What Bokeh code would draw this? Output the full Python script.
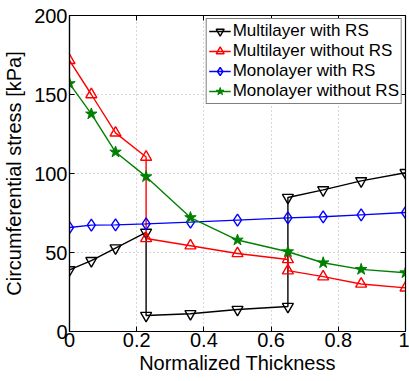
from bokeh.plotting import figure
from bokeh.models import Range1d, FixedTicker, LinearAxis, Legend, LegendItem
from bokeh.embed import file_html
from bokeh.resources import INLINE

# ---- data ----
x_ml = [0, 0.065, 0.137, 0.228, 0.228, 0.36, 0.5, 0.65, 0.65, 0.755, 0.868, 1.0]
ml_with_rs = [39, 44.8, 52.8, 62.7, 10.1, 11.2, 13.9, 15.8, 84.8, 89.6, 95.3, 100.5]
ml_without_rs = [171.6, 150, 125.7, 110.4, 58.9, 54.3, 49.4, 45.6, 38.5, 34.7, 30.1, 27.6]
x_mono = [0, 0.065, 0.137, 0.228, 0.36, 0.5, 0.65, 0.755, 0.868, 1.0]
mono_with_rs = [65.8, 67.3, 67.5, 68.1, 69.2, 70.5, 71.9, 72.6, 73.8, 75.3]
mono_without_rs = [156.9, 137.7, 113.6, 98, 72.1, 57.9, 50.5, 43.5, 39.3, 37.2]
x_ticks = [0, 0.2, 0.4, 0.6, 0.8, 1.0]
x_tick_labels = ["0", "0.2", "0.4", "0.6", "0.8", "1"]
y_ticks = [0, 50, 100, 150, 200]
y_tick_labels = ["0", "50", "100", "150", "200"]
names = ["Multilayer with RS", "Multilayer without RS", "Monolayer with RS", "Monolayer without RS"]

FONT = "Liberation Sans"

p = figure(width=409, height=381, output_backend="svg", toolbar_location=None,
           x_range=Range1d(0, 1), y_range=Range1d(0, 200),
           min_border_left=69, min_border_right=4, min_border_top=15, min_border_bottom=50)
p.outline_line_color = "black"
p.outline_line_width = 1.2
p.background_fill_color = "white"

for ax, ticks, labels in [(p.xaxis[0], x_ticks, x_tick_labels), (p.yaxis[0], y_ticks, y_tick_labels)]:
    ax.ticker = FixedTicker(ticks=ticks)
    ax.major_label_overrides = {t: l for t, l in zip(ticks, labels)}
    ax.major_label_text_font = FONT
    ax.major_label_text_font_size = "20px"
    ax.major_label_text_color = "black"
    ax.axis_label_text_font = FONT
    ax.axis_label_text_font_size = "20px"
    ax.axis_label_text_font_style = "normal"
    ax.axis_label_text_color = "black"
    ax.major_tick_in = 5
    ax.major_tick_out = 0
    ax.minor_tick_line_color = None
    ax.axis_line_color = "black"
    ax.axis_line_width = 1.2

p.xaxis.major_label_standoff = 1
p.yaxis.major_label_standoff = 2
p.xaxis.axis_label = "Normalized Thickness"
p.xaxis.axis_label_standoff = 2
p.yaxis.axis_label = "Circumferential stress [kPa]"
p.yaxis.axis_label_standoff = 6

# mirrored inward ticks on top and right (no labels)
top = LinearAxis(ticker=FixedTicker(ticks=x_ticks), major_label_overrides={t: "" for t in x_ticks},
                 major_tick_in=5, major_tick_out=0, minor_tick_line_color=None,
                 axis_line_color="black", major_label_standoff=0)
right = LinearAxis(ticker=FixedTicker(ticks=y_ticks), major_label_overrides={t: "" for t in y_ticks},
                   major_tick_in=5, major_tick_out=0, minor_tick_line_color=None,
                   axis_line_color="black", major_label_standoff=0)
p.add_layout(top, "above")
p.add_layout(right, "right")

p.xgrid.ticker = FixedTicker(ticks=x_ticks)
p.ygrid.ticker = FixedTicker(ticks=y_ticks)
for g in (p.xgrid[0], p.ygrid[0]):
    g.grid_line_color = "#b0b0b0"
    g.grid_line_dash = "1 3"
    g.grid_line_width = 1

LW = 1.4
items = []
r1 = p.line(x_ml, ml_with_rs, line_color="black", line_width=LW)
m1 = p.scatter(x_ml, ml_with_rs, marker="inverted_triangle", size=11, line_color="black",
               fill_color=None, line_width=LW)
items.append(LegendItem(label=names[0], renderers=[r1, m1]))

r2 = p.line(x_ml, ml_without_rs, line_color="red", line_width=LW)
m2 = p.scatter(x_ml, ml_without_rs, marker="triangle", size=11, line_color="red",
               fill_color=None, line_width=LW)
items.append(LegendItem(label=names[1], renderers=[r2, m2]))

r3 = p.line(x_mono, mono_with_rs, line_color="blue", line_width=LW)
m3 = p.scatter(x_mono, mono_with_rs, marker="diamond", size=12, line_color="blue",
               fill_color=None, line_width=LW)
items.append(LegendItem(label=names[2], renderers=[r3, m3]))

r4 = p.line(x_mono, mono_without_rs, line_color="green", line_width=LW)
m4 = p.scatter(x_mono, mono_without_rs, marker="star", size=12, line_color="green",
               fill_color="green", line_width=1)
items.append(LegendItem(label=names[3], renderers=[r4, m4]))

legend = Legend(items=items, location="top_right", margin=3, padding=2, spacing=0,
                label_height=20, glyph_height=20, glyph_width=22, label_standoff=2,
                label_text_font=FONT, label_text_font_size="17px", label_text_color="black",
                border_line_color="black", border_line_width=1, background_fill_alpha=1)
p.add_layout(legend)

open("out.html", "w").write(file_html(p, INLINE))
